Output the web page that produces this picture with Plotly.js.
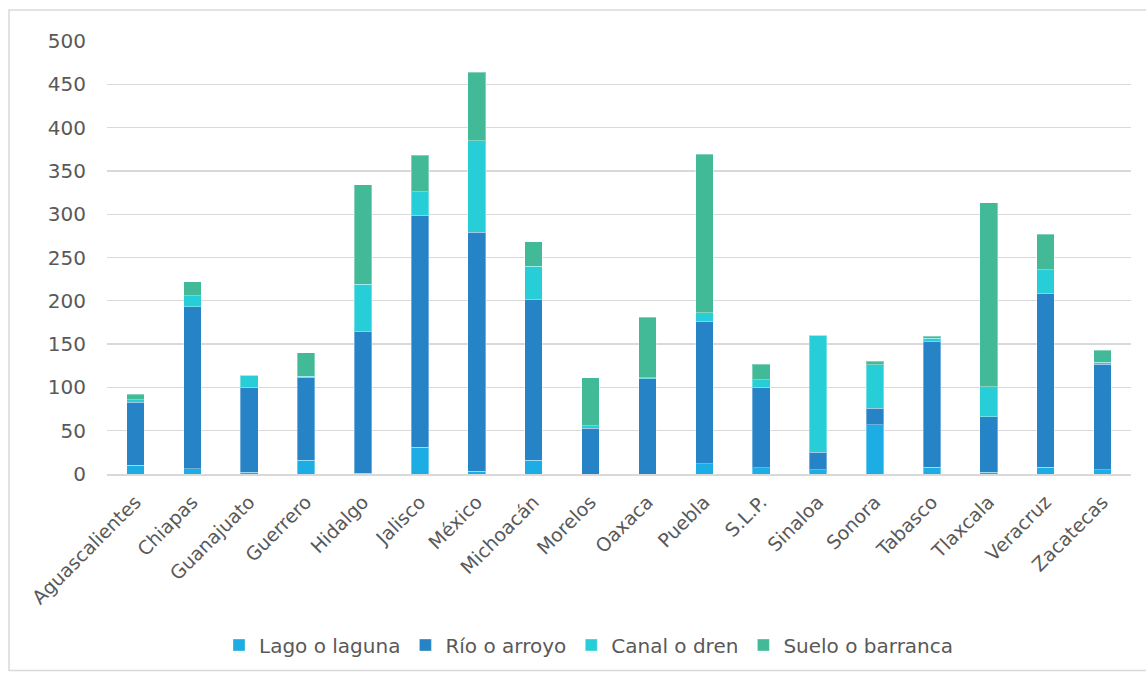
<!DOCTYPE html>
<html>
<head>
<meta charset="utf-8">
<script src="https://cdn.plot.ly/plotly-3.0.1.min.js"></script>
<style>
  html, body { margin: 0; padding: 0; background: #ffffff; }
  #chart { width: 1146px; height: 675px; }
</style>
</head>
<body>
<div id="chart"></div>
<script>
// Estados
const estados = ["Aguascalientes", "Chiapas", "Guanajuato", "Guerrero", "Hidalgo", "Jalisco",
  "México", "Michoacán", "Morelos", "Oaxaca", "Puebla", "S.L.P.", "Sinaloa", "Sonora",
  "Tabasco", "Tlaxcala", "Veracruz", "Zacatecas"];

// Sitios por tipo de cuerpo receptor
const lagoLaguna     = [10,   6,  2, 16,   1,  31,   3,  16,  0,   0,  12,  7,   5, 57,   8,   2,   8,   5];
const rioArroyo      = [73, 187, 98, 95, 163, 268, 276, 185, 53, 110, 164, 93,  20, 19, 145,  64, 200, 122];
const canalDren      = [ 3,  13, 14,  2,  55,  27, 106,  39,  3,   1,  10,  9, 135, 50,   4,  35,  28,   2];
const sueloBarranca  = [ 6,  16,  0, 27, 115,  42,  79,  28, 55,  70, 183, 18,   0,  4,   2, 212,  41,  14];

const yTicks = [0, 50, 100, 150, 200, 250, 300, 350, 400, 450, 500];

const FONT = "DejaVu Sans, sans-serif";
const GRAY = "#595959";

function serie(nombre, valores, color) {
  return {
    type: "bar",
    name: nombre,
    x: estados,
    y: valores,
    marker: { color: color, line: { color: "rgba(255,255,255,0.35)", width: 1 } },
    hoverinfo: "x+y+name"
  };
}

const data = [
  serie("Lago o laguna", lagoLaguna, "#1CADE4"),
  serie("Río o arroyo", rioArroyo, "#2683C6"),
  serie("Canal o dren", canalDren, "#27CED7"),
  serie("Suelo o barranca", sueloBarranca, "#42BA97")
];

const W = 1146, H = 675;
const M = { l: 107, r: 15, t: 41, b: 200 };
const pw = W - M.l - M.r, ph = H - M.t - M.b;
// chart-area frame in paper coordinates
const px = v => (v - M.l) / pw;
const py = v => (H - M.b - v) / ph;

const layout = {
  width: W,
  height: H,
  margin: M,
  paper_bgcolor: "#ffffff",
  plot_bgcolor: "#ffffff",
  barmode: "stack",
  bargap: 0.69,
  font: { family: FONT, color: GRAY, size: 18 },
  xaxis: {
    type: "category",
    tickangle: -45,
    tickfont: { family: FONT, size: 19, color: GRAY },
    showgrid: false,
    showline: true,
    linecolor: "#D9D9D9",
    linewidth: 1.5,
    ticks: "",
    ticklabelstandoff: 8,
    fixedrange: true
  },
  yaxis: {
    range: [0, 500],
    tickvals: yTicks,
    ticktext: yTicks.map(String),
    tickfont: { family: FONT, size: 20, color: GRAY },
    showgrid: true,
    gridcolor: "#D9D9D9",
    gridwidth: 1.4,
    zeroline: false,
    showline: false,
    ticks: "",
    ticklabelstandoff: 20,
    fixedrange: true
  },
  showlegend: true,
  legend: {
    orientation: "h",
    x: px(589),
    xanchor: "center",
    y: py(645),
    yanchor: "middle",
    font: { family: FONT, size: 20, color: GRAY },
    itemwidth: 30,
    traceorder: "normal",
    bgcolor: "rgba(0,0,0,0)"
  },
  shapes: [{
    type: "rect",
    xref: "paper", yref: "paper",
    x0: px(9), x1: px(1160),
    y0: py(672), y1: py(10),
    line: { color: "#D9D9D9", width: 1.5 },
    fillcolor: "rgba(0,0,0,0)",
    layer: "below"
  }]
};

Plotly.newPlot("chart", data, layout, { displayModeBar: false, staticPlot: true });
</script>
</body>
</html>
